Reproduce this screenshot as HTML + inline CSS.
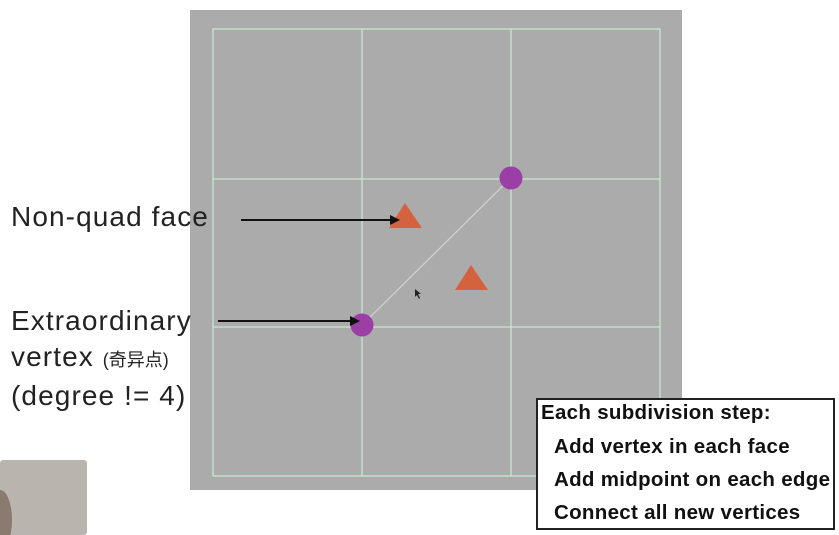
<!DOCTYPE html>
<html><head><meta charset="utf-8"><style>
body{margin:0;width:839px;height:535px;background:#fff;overflow:hidden;position:relative;font-family:"Liberation Sans","Noto Sans CJK SC",sans-serif}
.lbl{position:absolute;color:#222;font-size:28px;line-height:36px;letter-spacing:1.1px}
.box{position:absolute;left:536px;top:398px;width:299px;height:132px;border:2px solid #222;background:#fff;box-sizing:border-box;font-weight:bold;font-size:20.5px;color:#111;padding:0 0 0 3px;line-height:33px;letter-spacing:0.3px;white-space:nowrap}
</style></head><body>
<svg width="839" height="535" style="position:absolute;left:0;top:0">
<rect x="190" y="10" width="492" height="480" fill="#acabac"/>
<g stroke="#c6e8cf" stroke-width="1.3" fill="none">
<rect x="213" y="29" width="447" height="447"/>
<line x1="362" y1="29" x2="362" y2="476"/>
<line x1="511" y1="29" x2="511" y2="476"/>
<line x1="213" y1="179" x2="660" y2="179"/>
<line x1="213" y1="327" x2="660" y2="327"/>
<line x1="362" y1="325" x2="511" y2="178" stroke="#d0d0d0"/>
</g>
<polygon points="405,203 389,228 422,228" fill="#d5623f"/>
<polygon points="471,265 455,290 488,290" fill="#d5623f"/>
<circle cx="511" cy="178" r="11.5" fill="#9b3fa6"/>
<circle cx="362" cy="325" r="11.5" fill="#9b3fa6"/>
<g stroke="#111" stroke-width="2">
<line x1="241" y1="220" x2="392" y2="220"/>
<line x1="218" y1="321" x2="352" y2="321"/>
</g>
<polygon points="400,220 390,215 390,225" fill="#111"/>
<polygon points="360,321 350,316 350,326" fill="#111"/>
<path d="M415,289 l0,8 l2,-2 l2,4 l1,-1 l-2,-4 l3,0 z" fill="#222"/>
<rect x="0" y="460" width="87" height="75" rx="3" fill="#b9b4ae"/>
<ellipse cx="0" cy="520" rx="12" ry="30" fill="#8a7a70"/>
</svg>
<div class="lbl" style="left:11px;top:199px">Non-quad face</div>
<div class="lbl" style="left:11px;top:303px">Extraordinary<br>vertex <span style="font-size:18px;letter-spacing:0">(奇异点)</span><br>(degree != 4)</div>
<div class="box">
<div style="line-height:26px;margin-bottom:4px">Each subdivision step:</div>
<div style="padding-left:13px">Add vertex in each face</div>
<div style="padding-left:13px">Add midpoint on each edge</div>
<div style="padding-left:13px">Connect all new vertices</div>
</div>
</body></html>
